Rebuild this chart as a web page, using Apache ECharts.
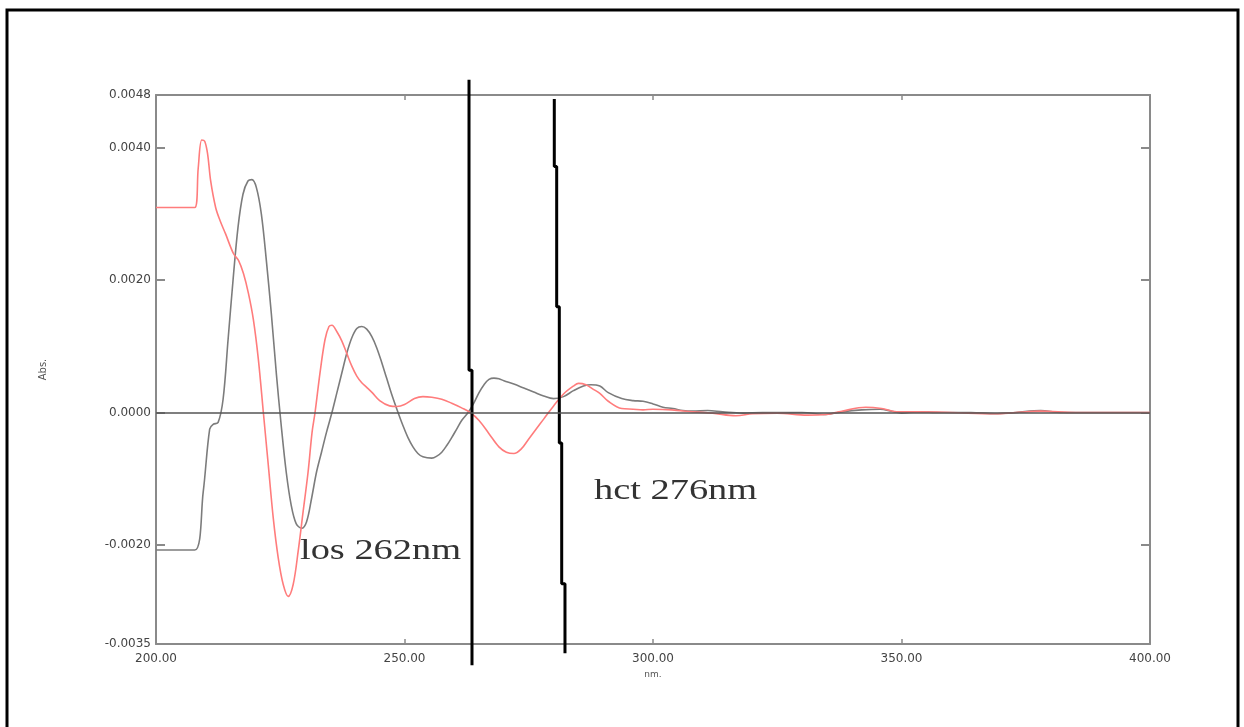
<!DOCTYPE html>
<html>
<head>
<meta charset="utf-8">
<script src="https://cdn.jsdelivr.net/npm/echarts@6/dist/echarts.min.js"></script>
<style>
html,body{margin:0;padding:0;background:#fff;}
#chart{width:1244px;height:727px;}
</style>
</head>
<body>
<div id="chart"></div>
<script>
// Wavelength (nm) / derivative absorbance pairs
const grayCurve = [
  [200,-0.00208],[204,-0.00208],[207.8,-0.00208],[209.5,-0.0012],[210.8,-0.00025],[211.5,-0.00018],
  [212.5,-0.00015],[213.5,0.0002],[214.5,0.0011],[215.5,0.0020],[216.5,0.0028],[217.5,0.0033],
  [218.5,0.0035],[219.3,0.00352],[220.2,0.0034],[221.2,0.0030],[222.2,0.0023],[223.2,0.0015],
  [224.2,0.0006],[225.2,-0.0002],[226.2,-0.0009],[227.2,-0.0014],[228.2,-0.00168],[229.3,-0.00175],
  [230.3,-0.00165],[231.3,-0.0013],[232.3,-0.0009],[233.3,-0.0006],[234.3,-0.0003],[235.4,0],
  [236.4,0.0003],[237.4,0.0006],[238.4,0.0009],[239.4,0.00113],[240.4,0.00127],[241.4,0.0013],
  [242.4,0.00126],[243.4,0.00115],[244.4,0.00098],[245.4,0.00076],[246.4,0.00052],[247.4,0.00028],
  [248.7,0],[249.7,-0.0002],[250.7,-0.00038],[251.7,-0.00052],[252.7,-0.00062],[253.7,-0.00067],
  [255.5,-0.00069],[256.5,-0.00066],[257.5,-0.0006],[258.5,-0.0005],[259.5,-0.00038],[260.5,-0.00025],
  [261.5,-0.00012],[262.8,0],[264,0.00015],[265,0.0003],[266,0.00042],[267,0.0005],[268,0.00052],
  [269,0.00051],[270,0.00048],[272,0.00043],[274,0.00037],[276,0.00031],[278,0.00025],[280,0.00021],
  [282,0.00024],[284,0.00033],[286,0.0004],[287.5,0.00042],[289.3,0.0004],[291,0.0003],[293.7,0.00021],
  [296,0.00018],[298,0.00017],[300,0.00013],[302,0.00008],[304,0.00006],[306,0.00003],[308,0.00002],
  [311,0.00003],[314,0.00001],[318,-0.00001],[322,0],[326,0],[330,0],[334.8,-0.00003],[338,0.00001],
  [342,0.00004],[345.7,0.00005],[348,0.00002],[350,-0.00001],[353,0.00001],[358,0],[364,0],
  [368.8,-0.00002],[373,0],[378,0.00003],[382,0],[388,0],[395,0],[400,0]
];
const redCurve = [
  [200,0.0031],[204,0.0031],[207.8,0.0031],[208.5,0.0037],[209.2,0.00412],[209.8,0.0041],
  [210.4,0.0039],[211,0.0035],[212,0.0031],[212.9,0.0029],[214,0.0027],[215.6,0.0024],[216.6,0.0023],
  [217.6,0.0021],[218.6,0.0018],[219.6,0.0014],[220.6,0.0008],[221.6,0],[222.6,-0.0008],[223.6,-0.0016],
  [224.6,-0.0022],[225.6,-0.0026],[226.6,-0.00278],[227.6,-0.0026],[228.6,-0.0021],[229.6,-0.0015],
  [230.6,-0.0009],[231.4,-0.0003],[232,0],[233,0.0006],[234,0.0011],[234.8,0.0013],[235.4,0.00132],
  [236.4,0.00122],[237.4,0.00108],[238.4,0.00089],[239.4,0.0007],[240.4,0.00055],[241.4,0.00045],
  [242.4,0.00038],[243.5,0.0003],[245,0.00018],[247,0.0001],[248.5,0.00009],[250,0.00012],[252,0.00021],
  [253.7,0.00024],[255.5,0.00023],[257.5,0.0002],[259.5,0.00014],[261.5,0.00007],[263.2,0],
  [265,-0.00012],[267,-0.00032],[269,-0.00052],[270.5,-0.0006],[272,-0.00062],[273.5,-0.00055],
  [275,-0.0004],[276.5,-0.00025],[278,-0.0001],[280,0.0001],[282,0.00028],[284,0.0004],[285,0.00044],
  [286.5,0.00042],[288,0.00035],[289.3,0.00029],[291,0.00017],[293.7,0.00006],[296,0.00005],
  [298,0.00004],[300,0.00005],[303.8,0.00004],[308,0.00001],[312,-0.00001],[316.7,-0.00005],
  [320,-0.00002],[325,-0.00001],[331,-0.00004],[334.8,-0.00003],[338,0.00002],[342.8,0.00008],
  [346,0.00006],[349,0.00001],[353,0.00001],[360,0],[368.8,-0.00002],[373,0],[378,0.00002],[385,0],[400,0]
];
// Hand-drawn marker lines (los / hct zero-crossing wavelengths)
const losLine = [[262.98,0.00503],[262.98,0.00064],[263.58,0.00064],[263.58,-0.00382]];
const hctLine = [[280.14,0.00474],[280.14,0.00372],[280.62,0.00372],[280.62,0.0016],[281.15,0.0016],
  [281.15,-0.00046],[281.63,-0.00046],[281.63,-0.00259],[282.29,-0.00259],[282.29,-0.00364]];
const yTicks = [-0.0035,-0.002,0,0.002,0.004,0.0048];
const xMin = 200, xMax = 400, xStep = 50;
const yMin = -0.0035, yMax = 0.0048;
const annotations = ['los 262nm','hct 276nm'];

const frameColor = '#8a8a8a';
const chart = echarts.init(document.getElementById('chart'));
const yAxisBase = {
  type:'value', min:yMin, max:yMax,
  splitLine:{show:false},
  axisLine:{show:true, lineStyle:{color:frameColor, width:2}},
  axisTick:{show:true, inside:true, length:9, customValues:yTicks, lineStyle:{color:frameColor, width:2}}
};
const xAxisBase = {
  type:'value', min:xMin, max:xMax, interval:xStep,
  splitLine:{show:false},
  axisLine:{show:true, onZero:false, lineStyle:{color:frameColor, width:2}},
  axisTick:{show:true, inside:true, length:5, lineStyle:{color:frameColor, width:1.5}}
};
chart.setOption({
  animation:false,
  backgroundColor:'#fff',
  grid:{left:156, right:94, top:95, bottom:83},
  xAxis:[
    Object.assign({}, xAxisBase, {
      position:'bottom',
      name:'nm.', nameLocation:'middle', nameGap:24,
      nameTextStyle:{fontFamily:'DejaVu Sans', fontSize:9, color:'#555'},
      axisLabel:{show:true, margin:9, fontFamily:'DejaVu Sans', fontSize:12, color:'#444',
        formatter:v=>v.toFixed(2)}
    }),
    Object.assign({}, xAxisBase, {position:'top', axisLabel:{show:false}})
  ],
  yAxis:[
    Object.assign({}, yAxisBase, {
      position:'left',
      name:'Abs.', nameLocation:'middle', nameGap:108, nameRotate:90,
      nameTextStyle:{fontFamily:'DejaVu Sans', fontSize:10, color:'#555'},
      axisLabel:{show:true, margin:5, customValues:yTicks, fontFamily:'DejaVu Sans', fontSize:12, color:'#444',
        formatter:v=>v.toFixed(4)}
    }),
    Object.assign({}, yAxisBase, {position:'right', axisLabel:{show:false}})
  ],
  series:[
    {
      name:'HCT', type:'line', data:grayCurve, smooth:0.35, showSymbol:false, symbol:'none',
      lineStyle:{color:'#7c7c7c', width:1.6},
      markLine:{silent:true, symbol:['none','none'], label:{show:false},
        lineStyle:{color:'#555', width:1.5, type:'solid'}, data:[{yAxis:0}]}
    },
    {
      name:'LOS', type:'line', data:redCurve, smooth:0.35, showSymbol:false, symbol:'none',
      lineStyle:{color:'#ff7c7c', width:1.6}
    },
    {
      name:'los marker', type:'line', data:losLine, clip:false, showSymbol:false, symbol:'none',
      lineStyle:{color:'#000', width:3}
    },
    {
      name:'hct marker', type:'line', data:hctLine, clip:false, showSymbol:false, symbol:'none',
      lineStyle:{color:'#000', width:3}
    }
  ],
  graphic:[
    {type:'rect', shape:{x:7, y:10, width:1231, height:740}, style:{fill:'none', stroke:'#000', lineWidth:3}, silent:true},
    {type:'text', x:300, y:551, scaleX:1.28, silent:true,
      style:{text:annotations[0], font:'30px "Liberation Serif"', fill:'#333', verticalAlign:'middle'}},
    {type:'text', x:594, y:491, scaleX:1.28, silent:true,
      style:{text:annotations[1], font:'30px "Liberation Serif"', fill:'#333', verticalAlign:'middle'}}
  ]
});
</script>
</body>
</html>
